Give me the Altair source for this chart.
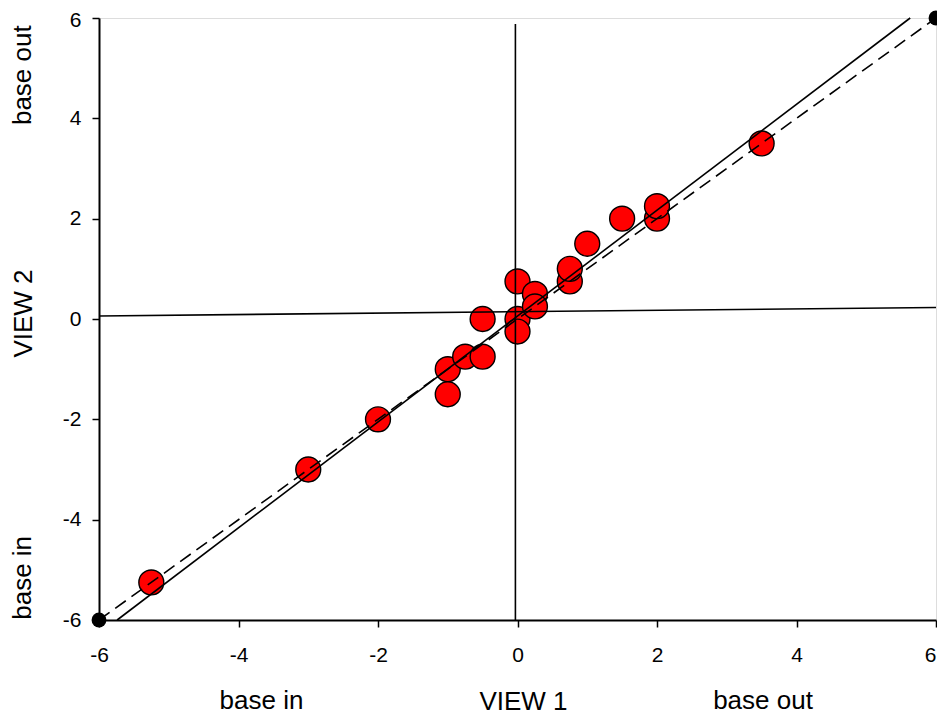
import altair as alt
import pandas as pd

# Scatter points (VIEW 1, VIEW 2)
view1 = [-5.25, -3, -2, -1, -1, -0.75, -0.5, -0.5, 0, 0, 0, 0.25, 0.25, 0.75, 0.75, 1, 1.5, 2, 2, 3.5]
view2 = [-5.25, -3, -2, -1, -1.5, -0.75, -0.75, 0, 0.75, 0, -0.25, 0.5, 0.25, 0.75, 1, 1.5, 2, 2, 2.25, 3.5]

# Regression line (solid)
reg_x = [-5.74, 5.63]
reg_y = [-6, 6]
# Identity line (dashed) and its end dots
id_x = [-6, 6]
id_y = [-6, 6]
# Near-horizontal line
h_x = [-6, 6]
h_y = [0.06, 0.23]
# Near-vertical line
v_x = [-0.03, -0.03]
v_y = [-6, 5.88]

ticks = [-6, -4, -2, 0, 2, 4, 6]

bottom_text = ["base in", "base out"]
bottom_pos = [-3.67, 3.52]
left_text = ["base out", "base in"]
left_pos = [4.86, -5.16]

FONT = "Liberation Sans"
TICK_FS = 21
TITLE_FS = 26

xs = alt.Scale(domain=[-6, 6], nice=False, zero=False)
ys = alt.Scale(domain=[-6, 6], nice=False, zero=False)

xaxis = alt.Axis(values=ticks, grid=False, title="VIEW 1", domainColor="black", domainWidth=2,
                 tickColor="black", tickWidth=1.5, tickSize=7, labelFontSize=TICK_FS, labelFont=FONT,
                 labelColor="black", labelPadding=17, titleFontSize=TITLE_FS, titleFont=FONT,
                 titleFontWeight="normal", titleColor="black", titleX=424, titleY=81,
                 titleBaseline="middle", labelFlush=False, labelExpr="'' + datum.value",
                 labelAlign={"condition": {"test": "datum.value == 6", "value": "right"}, "value": "center"})
yaxis = alt.Axis(values=ticks, grid=False, title="VIEW 2", domainColor="black", domainWidth=2,
                 tickColor="black", tickWidth=1.5, tickSize=7, labelFontSize=TICK_FS, labelFont=FONT,
                 labelColor="black", labelPadding=11, titleFontSize=TITLE_FS, titleFont=FONT,
                 titleFontWeight="normal", titleColor="black", titleX=-76, titleY=295,
                 titleBaseline="middle", labelFlush=False, labelExpr="'' + datum.value",
                 labelOffset={"condition": {"test": "datum.value == 6", "value": 2}, "value": 0})

pts = pd.DataFrame({"x": view1, "y": view2})
points = alt.Chart(pts).mark_point(filled=True, size=620, fill="#ff0000", stroke="black",
                                   strokeWidth=1.4, opacity=1, shape="circle").encode(
    x=alt.X("x:Q", scale=xs, axis=xaxis),
    y=alt.Y("y:Q", scale=ys, axis=yaxis),
)

def line(xv, yv, dash=None):
    df = pd.DataFrame({"x": xv, "y": yv})
    kw = dict(color="black", strokeWidth=1.6)
    if dash:
        kw["strokeDash"] = dash
    return alt.Chart(df).mark_line(**kw).encode(
        x=alt.X("x:Q", scale=xs), y=alt.Y("y:Q", scale=ys))

reg = line(reg_x, reg_y)
ident = line(id_x, id_y, [13, 7])
hline = line(h_x, h_y)
vline = line(v_x, v_y)

dots = alt.Chart(pd.DataFrame({"x": id_x, "y": id_y})).mark_circle(size=220, color="black", opacity=1).encode(
    x=alt.X("x:Q", scale=xs), y=alt.Y("y:Q", scale=ys))

btext = alt.Chart(pd.DataFrame({"t": bottom_text, "x": bottom_pos})).mark_text(
    font=FONT, fontSize=TITLE_FS, color="black", baseline="middle", align="center").encode(
    x=alt.X("x:Q", scale=xs), y=alt.value(683), text="t:N")

ltext = alt.Chart(pd.DataFrame({"t": left_text, "y": left_pos})).mark_text(
    font=FONT, fontSize=TITLE_FS, color="black", baseline="middle", align="center", angle=270).encode(
    y=alt.Y("y:Q", scale=ys), x=alt.value(-76), text="t:N")

chart = alt.layer(points, reg, ident, hline, vline, dots, btext, ltext).properties(
    width=837, height=602,
    autosize=alt.AutoSizeParams(type="none"),
    padding={"left": 91, "top": 10, "right": 1, "bottom": 95},
).configure_view(stroke="black", strokeWidth=2).configure(background="white")

chart.save("out.html", embed_options={"renderer": "svg", "actions": False})
